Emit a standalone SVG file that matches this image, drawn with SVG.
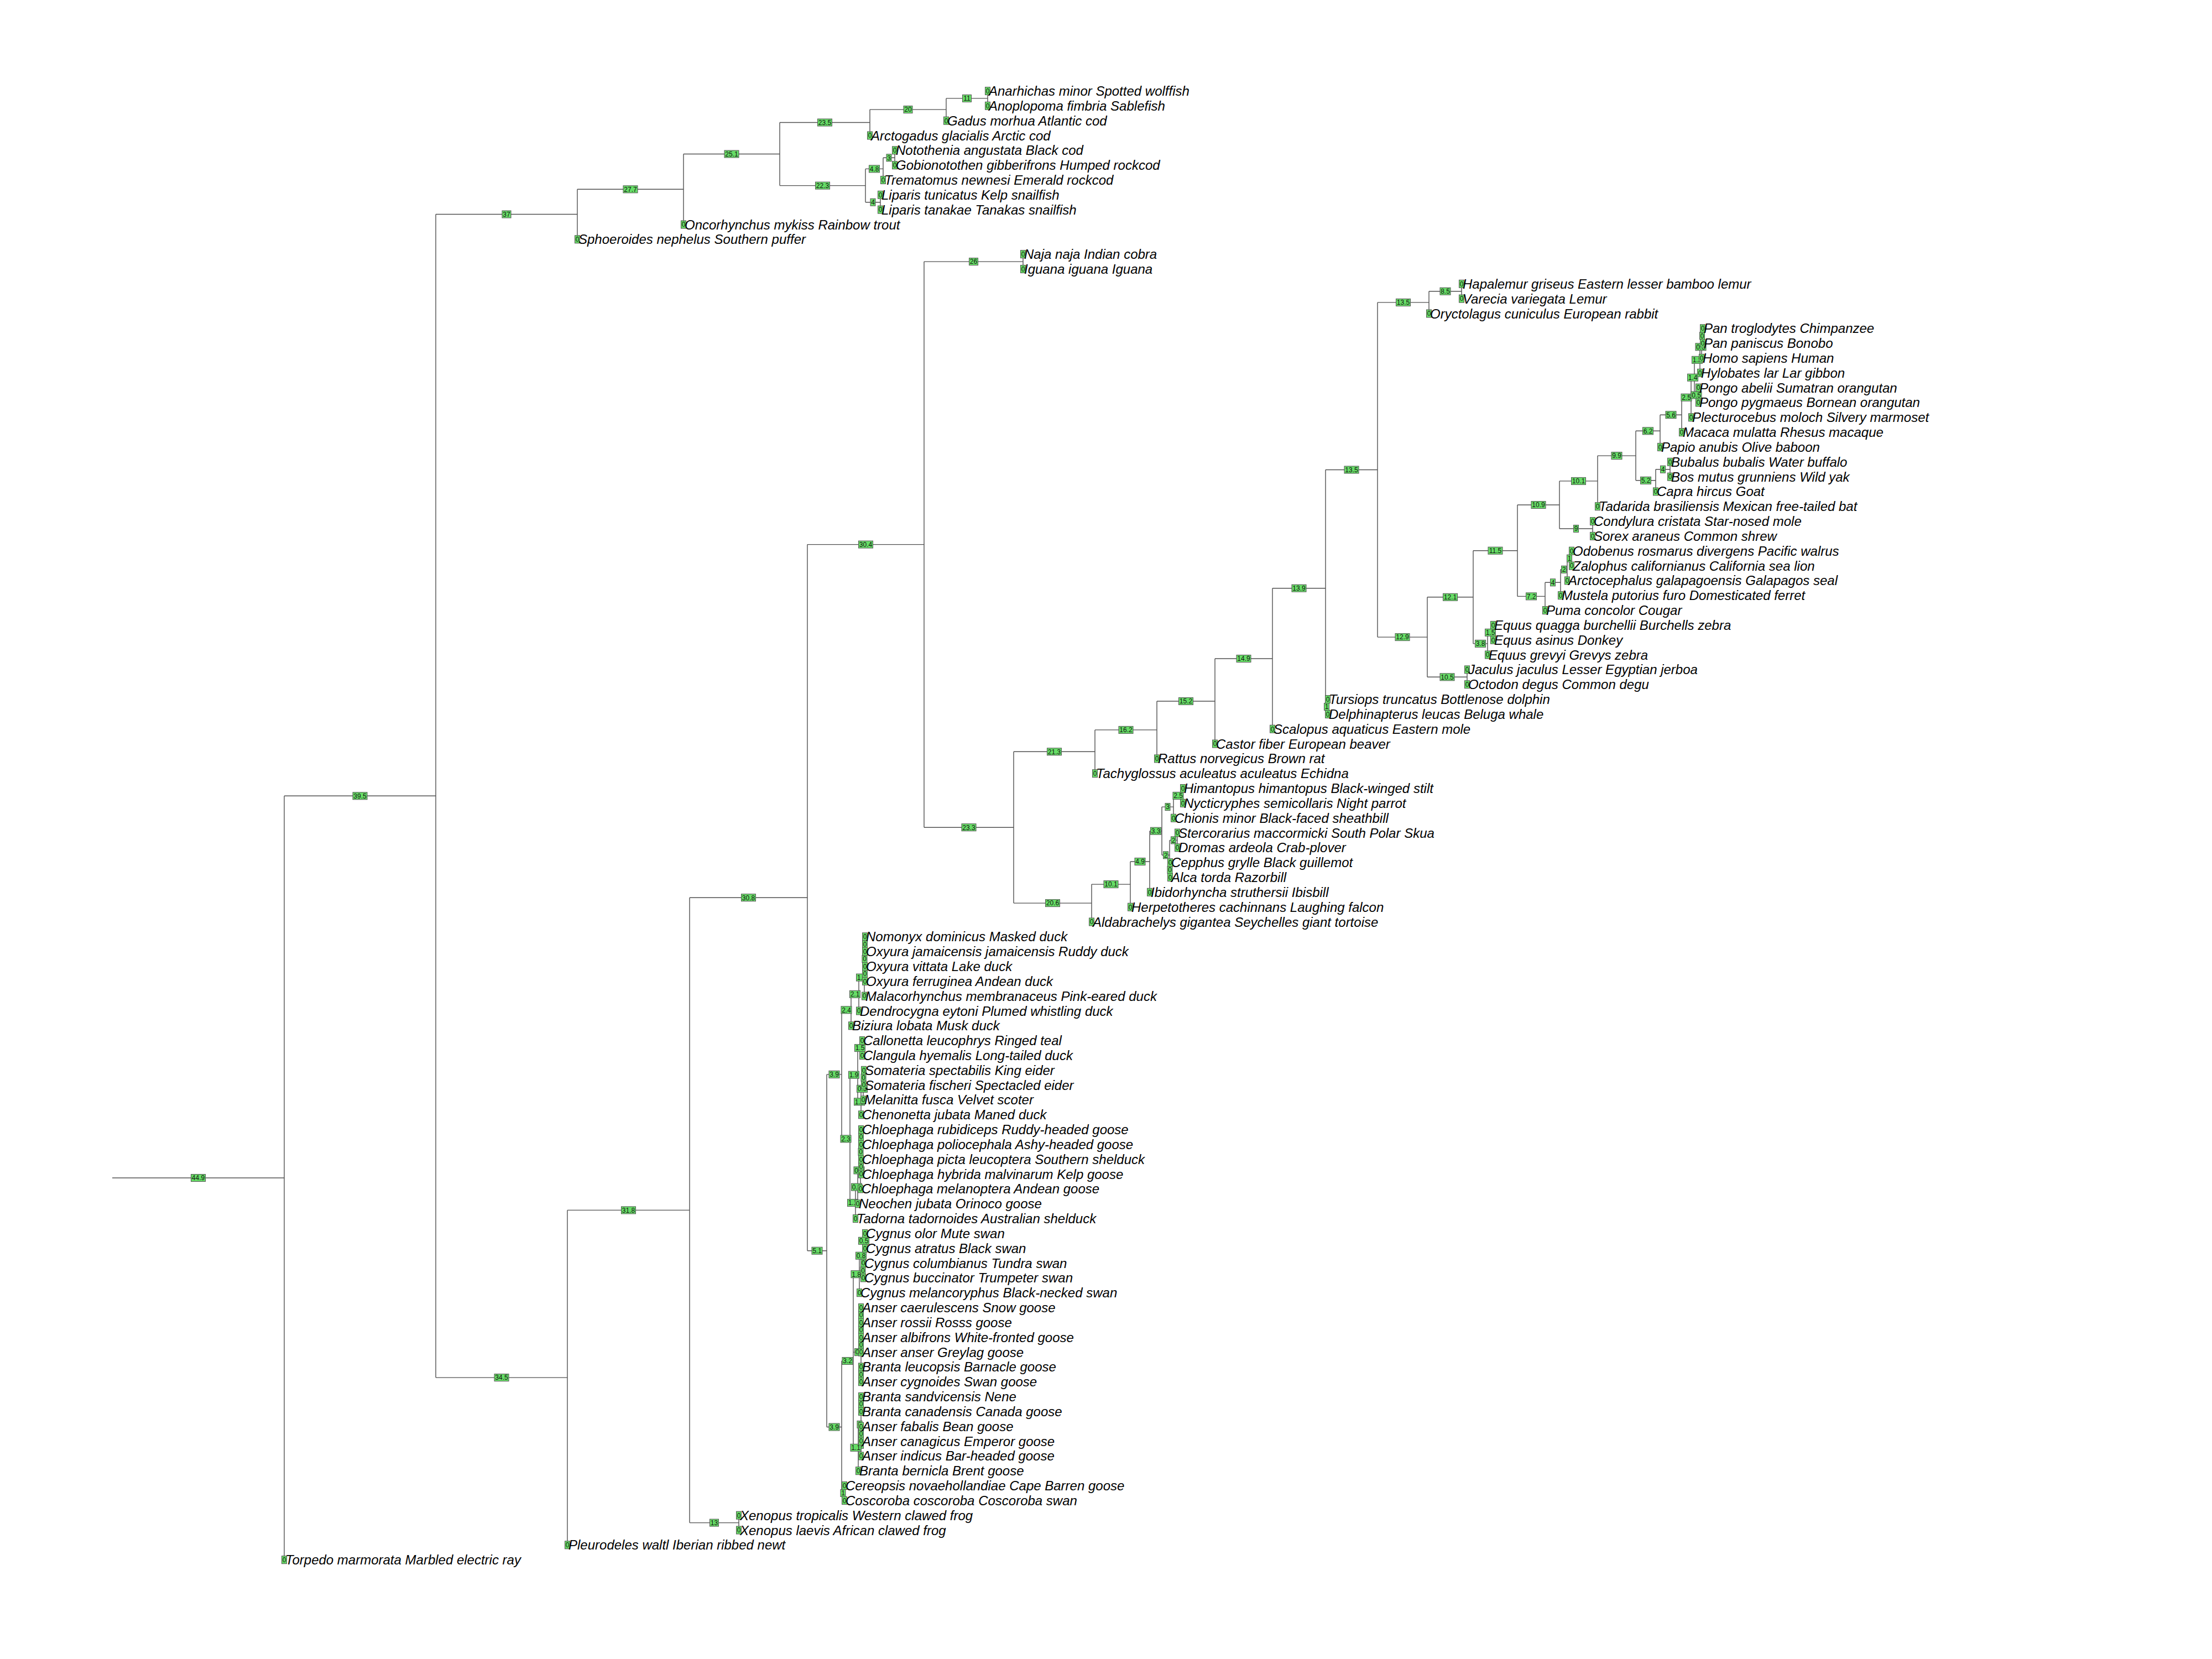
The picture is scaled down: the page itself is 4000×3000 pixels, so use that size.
<svg xmlns="http://www.w3.org/2000/svg" width="4000" height="3000" viewBox="0 0 4000 3000">
<style>
.br path{fill:none;stroke:#505050;stroke-width:1.4}
.lb rect,.lf rect{fill:#66dd66;stroke:#555;stroke-width:1}
.lb text,.lf .z{font-family:"Liberation Sans",Arial,sans-serif;font-size:12px;text-anchor:middle;fill:#111}
.lf .s{font-family:"Liberation Sans",Arial,sans-serif;font-size:24px;font-style:italic;fill:#000}
</style>
<rect width="4000" height="3000" fill="#fff"/>
<g id="connectors" class="br">
<path d="M203,2130H514"/>
<path d="M514,1439.3V2820.7M514,1439.3H788"/>
<path d="M788,387.5V2491.1M788,387.5H1044M788,2491.1H1026"/>
<path d="M1044,342.3V432.8M1044,342.3H1236"/>
<path d="M1236,278.5V406M1236,278.5H1410"/>
<path d="M1410,221.5V335.6M1410,221.5H1573M1410,335.6H1565"/>
<path d="M1573,198.1V245M1573,198.1H1711"/>
<path d="M1711,177.9V218.2M1711,177.9H1786"/>
<path d="M1786,164.5V191.3"/>
<path d="M1565,305.4V365.7M1565,305.4H1597M1565,365.7H1592"/>
<path d="M1597,285.3V325.5M1597,285.3H1618"/>
<path d="M1618,271.8V298.7"/>
<path d="M1592,352.3V379.1"/>
<path d="M1026,2188.4V2793.8M1026,2188.4H1247"/>
<path d="M1247,1623.2V2753.6M1247,1623.2H1460M1247,2753.6H1336"/>
<path d="M1336,2740.2V2767"/>
<path d="M1460,984.6V2261.7M1460,984.6H1671M1460,2261.7H1495"/>
<path d="M1671,473.1V1496.2M1671,473.1H1850M1671,1496.2H1833"/>
<path d="M1850,459.6V486.5"/>
<path d="M1833,1359.3V1633.1M1833,1359.3H1980M1833,1633.1H1974"/>
<path d="M1980,1319.9V1398.7M1980,1319.9H2092"/>
<path d="M2092,1268V1371.9M2092,1268H2197"/>
<path d="M2197,1191V1345M2197,1191H2301"/>
<path d="M2301,1063.7V1318.2M2301,1063.7H2397"/>
<path d="M2397,849.5V1278M2397,849.5H2491M2397,1278H2401"/>
<path d="M2401,1264.5V1291.4"/>
<path d="M2491,546.9V1152.1M2491,546.9H2584M2491,1152.1H2581"/>
<path d="M2584,526.7V567M2584,526.7H2643"/>
<path d="M2643,513.3V540.1"/>
<path d="M2581,1079.8V1224.3M2581,1079.8H2664M2581,1224.3H2653"/>
<path d="M2653,1210.9V1237.7"/>
<path d="M2664,995.7V1163.9M2664,995.7H2744M2664,1163.9H2690"/>
<path d="M2690,1143.8V1184M2690,1143.8H2700"/>
<path d="M2700,1130.4V1157.2"/>
<path d="M2744,913V1078.4M2744,913H2820M2744,1078.4H2794"/>
<path d="M2794,1053.3V1103.6M2794,1053.3H2822"/>
<path d="M2822,1029.8V1076.7M2822,1029.8H2834"/>
<path d="M2834,1009.7V1049.9M2834,1009.7H2842"/>
<path d="M2842,996.2V1023.1"/>
<path d="M2820,869.9V956M2820,869.9H2889M2820,956H2880"/>
<path d="M2880,942.6V969.4"/>
<path d="M2889,824.1V915.7M2889,824.1H2958"/>
<path d="M2958,779.3V868.8M2958,779.3H3002M2958,868.8H2994"/>
<path d="M2994,848.7V888.9M2994,848.7H3020"/>
<path d="M3020,835.3V862.1"/>
<path d="M3002,750.2V808.4M3002,750.2H3041"/>
<path d="M3041,718.7V781.6M3041,718.7H3058"/>
<path d="M3058,682.7V754.8M3058,682.7H3064"/>
<path d="M3064,650.8V714.5M3064,650.8H3074M3064,714.5H3071"/>
<path d="M3071,701.1V727.9"/>
<path d="M3074,627.3V674.3M3074,627.3H3077"/>
<path d="M3077,607.2V647.4M3077,607.2H3079"/>
<path d="M3079,593.8V620.6"/>
<path d="M1974,1599.1V1667M1974,1599.1H2044"/>
<path d="M2044,1558V1640.2M2044,1558H2079"/>
<path d="M2079,1502.7V1613.3M2079,1502.7H2101"/>
<path d="M2101,1459.1V1546.3M2101,1459.1H2122M2101,1546.3H2115"/>
<path d="M2122,1438.9V1479.2M2122,1438.9H2139"/>
<path d="M2139,1425.5V1452.3"/>
<path d="M2115,1519.4V1573.1M2115,1519.4H2129M2115,1573.1H2116"/>
<path d="M2129,1506V1532.8"/>
<path d="M2116,1559.7V1586.5"/>
<path d="M1495,1942.9V2580.5M1495,1942.9H1522M1495,2580.5H1522"/>
<path d="M1522,1826.3V2059.4M1522,1826.3H1539M1522,2059.4H1537"/>
<path d="M1539,1797.8V1854.8M1539,1797.8H1553"/>
<path d="M1553,1767.6V1828M1553,1767.6H1563"/>
<path d="M1563,1734.1V1801.1M1563,1734.1H1564"/>
<path d="M1564,1693.8V1774.3"/>
<path d="M1537,1943.7V2175.1M1537,1943.7H1551M1537,2175.1H1547"/>
<path d="M1551,1895.1V1992.3M1551,1895.1H1559M1551,1992.3H1557"/>
<path d="M1559,1881.6V1908.5"/>
<path d="M1557,1968.8V2015.8M1557,1968.8H1561"/>
<path d="M1561,1948.7V1988.9M1561,1948.7H1562"/>
<path d="M1562,1935.3V1962.1"/>
<path d="M1547,2146.6V2203.6M1547,2146.6H1551"/>
<path d="M1551,2116.4V2176.8M1551,2116.4H1556"/>
<path d="M1556,2082.9V2149.9M1556,2082.9H1557"/>
<path d="M1557,2042.6V2123.1"/>
<path d="M1522,2461V2700M1522,2461H1543M1522,2700H1527"/>
<path d="M1527,2686.5V2713.4"/>
<path d="M1543,2304.2V2617.8M1543,2304.2H1554M1543,2445.1H1557M1543,2617.8H1552"/>
<path d="M1554,2270.7V2337.7M1554,2270.7H1560"/>
<path d="M1560,2243.8V2297.5M1560,2243.8H1564M1560,2297.5H1561"/>
<path d="M1564,2230.4V2257.2"/>
<path d="M1561,2284.1V2310.9"/>
<path d="M1557,2364.6V2498.7"/>
<path d="M1552,2575.9V2659.7M1552,2575.9H1557"/>
<path d="M1557,2525.5V2632.9"/>
</g>
<g id="internal-nodes">
<g id="n-root" class="lb" transform="translate(358.5,2130)"><rect x="-13" y="-6.5" width="26" height="13"/><text y="4.3">44.9</text></g>
<g id="n-b" class="lb" transform="translate(651,1439.3)"><rect x="-13" y="-6.5" width="26" height="13"/><text y="4.3">39.5</text></g>
<g id="n-c" class="lb" transform="translate(916,387.5)"><rect x="-8" y="-6.5" width="16" height="13"/><text y="4.3">37</text></g>
<g id="n-d" class="lb" transform="translate(1140,342.3)"><rect x="-13" y="-6.5" width="26" height="13"/><text y="4.3">27.7</text></g>
<g id="n-e" class="lb" transform="translate(1323,278.5)"><rect x="-13" y="-6.5" width="26" height="13"/><text y="4.3">25.1</text></g>
<g id="n-f" class="lb" transform="translate(1491.5,221.5)"><rect x="-13" y="-6.5" width="26" height="13"/><text y="4.3">23.5</text></g>
<g id="n-g" class="lb" transform="translate(1642,198.1)"><rect x="-8" y="-6.5" width="16" height="13"/><text y="4.3">20</text></g>
<g id="n-h" class="lb" transform="translate(1748.5,177.9)"><rect x="-8" y="-6.5" width="16" height="13"/><text y="4.3">11</text></g>
<g id="n-i" class="lb" transform="translate(1487.5,335.6)"><rect x="-13" y="-6.5" width="26" height="13"/><text y="4.3">22.3</text></g>
<g id="n-j" class="lb" transform="translate(1581,305.4)"><rect x="-9.5" y="-6.5" width="19" height="13"/><text y="4.3">4.8</text></g>
<g id="n-k" class="lb" transform="translate(1607.5,285.3)"><rect x="-4.5" y="-6.5" width="9" height="13"/><text y="4.3">3</text></g>
<g id="n-l" class="lb" transform="translate(1578.5,365.7)"><rect x="-4.5" y="-6.5" width="9" height="13"/><text y="4.3">4</text></g>
<g id="n-m" class="lb" transform="translate(907,2491.1)"><rect x="-13" y="-6.5" width="26" height="13"/><text y="4.3">34.5</text></g>
<g id="n-n" class="lb" transform="translate(1136.5,2188.4)"><rect x="-13" y="-6.5" width="26" height="13"/><text y="4.3">31.8</text></g>
<g id="n-o" class="lb" transform="translate(1291.5,2753.6)"><rect x="-8" y="-6.5" width="16" height="13"/><text y="4.3">13</text></g>
<g id="n-p" class="lb" transform="translate(1353.5,1623.2)"><rect x="-13" y="-6.5" width="26" height="13"/><text y="4.3">30.8</text></g>
<g id="n-q" class="lb" transform="translate(1565.5,984.6)"><rect x="-13" y="-6.5" width="26" height="13"/><text y="4.3">30.4</text></g>
<g id="n-reptile" class="lb" transform="translate(1760.5,473.1)"><rect x="-8" y="-6.5" width="16" height="13"/><text y="4.3">26</text></g>
<g id="n-amniote" class="lb" transform="translate(1752,1496.2)"><rect x="-13" y="-6.5" width="26" height="13"/><text y="4.3">23.3</text></g>
<g id="n-mammal" class="lb" transform="translate(1906.5,1359.3)"><rect x="-13" y="-6.5" width="26" height="13"/><text y="4.3">21.3</text></g>
<g id="n-sauropsid" class="lb" transform="translate(1903.5,1633.1)"><rect x="-13" y="-6.5" width="26" height="13"/><text y="4.3">20.6</text></g>
<g id="n-162" class="lb" transform="translate(2036,1319.9)"><rect x="-13" y="-6.5" width="26" height="13"/><text y="4.3">16.2</text></g>
<g id="n-152" class="lb" transform="translate(2144.5,1268)"><rect x="-13" y="-6.5" width="26" height="13"/><text y="4.3">15.2</text></g>
<g id="n-149" class="lb" transform="translate(2249,1191)"><rect x="-13" y="-6.5" width="26" height="13"/><text y="4.3">14.9</text></g>
<g id="n-139" class="lb" transform="translate(2349,1063.7)"><rect x="-13" y="-6.5" width="26" height="13"/><text y="4.3">13.9</text></g>
<g id="n-cetacea" class="lb" transform="translate(2399,1278)"><rect x="-4.5" y="-6.5" width="9" height="13"/><text y="4.3">1</text></g>
<g id="n-135a" class="lb" transform="translate(2444,849.5)"><rect x="-13" y="-6.5" width="26" height="13"/><text y="4.3">13.5</text></g>
<g id="n-135b" class="lb" transform="translate(2537.5,546.9)"><rect x="-13" y="-6.5" width="26" height="13"/><text y="4.3">13.5</text></g>
<g id="n-lemur" class="lb" transform="translate(2613.5,526.7)"><rect x="-9.5" y="-6.5" width="19" height="13"/><text y="4.3">8.5</text></g>
<g id="n-129" class="lb" transform="translate(2536,1152.1)"><rect x="-13" y="-6.5" width="26" height="13"/><text y="4.3">12.9</text></g>
<g id="n-121" class="lb" transform="translate(2622.5,1079.8)"><rect x="-13" y="-6.5" width="26" height="13"/><text y="4.3">12.1</text></g>
<g id="n-rodent" class="lb" transform="translate(2617,1224.3)"><rect x="-13" y="-6.5" width="26" height="13"/><text y="4.3">10.5</text></g>
<g id="n-115" class="lb" transform="translate(2704,995.7)"><rect x="-13" y="-6.5" width="26" height="13"/><text y="4.3">11.5</text></g>
<g id="n-equus" class="lb" transform="translate(2677,1163.9)"><rect x="-9.5" y="-6.5" width="19" height="13"/><text y="4.3">3.8</text></g>
<g id="n-zebra" class="lb" transform="translate(2695,1143.8)"><rect x="-9.5" y="-6.5" width="19" height="13"/><text y="4.3">1.5</text></g>
<g id="n-109" class="lb" transform="translate(2782,913)"><rect x="-13" y="-6.5" width="26" height="13"/><text y="4.3">10.9</text></g>
<g id="n-carnivora" class="lb" transform="translate(2769,1078.4)"><rect x="-9.5" y="-6.5" width="19" height="13"/><text y="4.3">7.2</text></g>
<g id="n-caniform" class="lb" transform="translate(2808,1053.3)"><rect x="-4.5" y="-6.5" width="9" height="13"/><text y="4.3">4</text></g>
<g id="n-pinniped" class="lb" transform="translate(2828,1029.8)"><rect x="-4.5" y="-6.5" width="9" height="13"/><text y="4.3">2</text></g>
<g id="n-walrus" class="lb" transform="translate(2838,1009.7)"><rect x="-4.5" y="-6.5" width="9" height="13"/><text y="4.3">1</text></g>
<g id="n-101m" class="lb" transform="translate(2854.5,869.9)"><rect x="-13" y="-6.5" width="26" height="13"/><text y="4.3">10.1</text></g>
<g id="n-mole" class="lb" transform="translate(2850,956)"><rect x="-4.5" y="-6.5" width="9" height="13"/><text y="4.3">9</text></g>
<g id="n-99" class="lb" transform="translate(2923.5,824.1)"><rect x="-9.5" y="-6.5" width="19" height="13"/><text y="4.3">9.9</text></g>
<g id="n-primate" class="lb" transform="translate(2980,779.3)"><rect x="-9.5" y="-6.5" width="19" height="13"/><text y="4.3">6.2</text></g>
<g id="n-bovid" class="lb" transform="translate(2976,868.8)"><rect x="-9.5" y="-6.5" width="19" height="13"/><text y="4.3">5.2</text></g>
<g id="n-bovine" class="lb" transform="translate(3007,848.7)"><rect x="-4.5" y="-6.5" width="9" height="13"/><text y="4.3">4</text></g>
<g id="n-56" class="lb" transform="translate(3021.5,750.2)"><rect x="-9.5" y="-6.5" width="19" height="13"/><text y="4.3">5.6</text></g>
<g id="n-25p" class="lb" transform="translate(3049.5,718.7)"><rect x="-9.5" y="-6.5" width="19" height="13"/><text y="4.3">2.5</text></g>
<g id="n-ape" class="lb" transform="translate(3061,682.7)"><rect x="-9.5" y="-6.5" width="19" height="13"/><text y="4.3">1.4</text></g>
<g id="n-pongo" class="lb" transform="translate(3067.5,714.5)"><rect x="-9.5" y="-6.5" width="19" height="13"/><text y="4.3">0.5</text></g>
<g id="n-12p" class="lb" transform="translate(3069,650.8)"><rect x="-9.5" y="-6.5" width="19" height="13"/><text y="4.3">1.2</text></g>
<g id="n-hominin" class="lb" transform="translate(3075.5,627.3)"><rect x="-9.5" y="-6.5" width="19" height="13"/><text y="4.3">0.5</text></g>
<g id="n-pan" class="lb" transform="translate(3078,607.2)"><rect x="-4.5" y="-6.5" width="9" height="13"/><text y="4.3">0</text></g>
<g id="n-bird" class="lb" transform="translate(2009,1599.1)"><rect x="-13" y="-6.5" width="26" height="13"/><text y="4.3">10.1</text></g>
<g id="n-49" class="lb" transform="translate(2061.5,1558)"><rect x="-9.5" y="-6.5" width="19" height="13"/><text y="4.3">4.9</text></g>
<g id="n-33" class="lb" transform="translate(2090,1502.7)"><rect x="-9.5" y="-6.5" width="19" height="13"/><text y="4.3">3.3</text></g>
<g id="n-3b" class="lb" transform="translate(2111.5,1459.1)"><rect x="-4.5" y="-6.5" width="9" height="13"/><text y="4.3">3</text></g>
<g id="n-25b" class="lb" transform="translate(2130.5,1438.9)"><rect x="-9.5" y="-6.5" width="19" height="13"/><text y="4.3">2.5</text></g>
<g id="n-2s1" class="lb" transform="translate(2108,1546.3)"><rect x="-4.5" y="-6.5" width="9" height="13"/><text y="4.3">2</text></g>
<g id="n-2s2" class="lb" transform="translate(2122,1519.4)"><rect x="-4.5" y="-6.5" width="9" height="13"/><text y="4.3">2</text></g>
<g id="n-auk" class="lb" transform="translate(2115.5,1573.1)"><rect x="-4.5" y="-6.5" width="9" height="13"/><text y="4.3">0</text></g>
<g id="n-anatid" class="lb" transform="translate(1477.5,2261.7)"><rect x="-9.5" y="-6.5" width="19" height="13"/><text y="4.3">5.1</text></g>
<g id="n-39a" class="lb" transform="translate(1508.5,1942.9)"><rect x="-9.5" y="-6.5" width="19" height="13"/><text y="4.3">3.9</text></g>
<g id="n-24" class="lb" transform="translate(1530.5,1826.3)"><rect x="-9.5" y="-6.5" width="19" height="13"/><text y="4.3">2.4</text></g>
<g id="n-21" class="lb" transform="translate(1546,1797.8)"><rect x="-9.5" y="-6.5" width="19" height="13"/><text y="4.3">2.1</text></g>
<g id="n-18d" class="lb" transform="translate(1558,1767.6)"><rect x="-9.5" y="-6.5" width="19" height="13"/><text y="4.3">1.8</text></g>
<g id="n-oxy2" class="lb" transform="translate(1563.5,1734.1)"><rect x="-4.5" y="-6.5" width="9" height="13"/><text y="4.3">0</text></g>
<g id="n-oxy1" class="lb" transform="translate(1564,1707.2)"><rect x="-4.5" y="-6.5" width="9" height="13"/><text y="4.3">0</text></g>
<g id="n-oxy3" class="lb" transform="translate(1564,1760.9)"><rect x="-4.5" y="-6.5" width="9" height="13"/><text y="4.3">0</text></g>
<g id="n-23" class="lb" transform="translate(1529.5,2059.4)"><rect x="-9.5" y="-6.5" width="19" height="13"/><text y="4.3">2.3</text></g>
<g id="n-19" class="lb" transform="translate(1544,1943.7)"><rect x="-9.5" y="-6.5" width="19" height="13"/><text y="4.3">1.9</text></g>
<g id="n-15d" class="lb" transform="translate(1555,1895.1)"><rect x="-9.5" y="-6.5" width="19" height="13"/><text y="4.3">1.5</text></g>
<g id="n-12d" class="lb" transform="translate(1554,1992.3)"><rect x="-9.5" y="-6.5" width="19" height="13"/><text y="4.3">1.2</text></g>
<g id="n-05d" class="lb" transform="translate(1559,1968.8)"><rect x="-9.5" y="-6.5" width="19" height="13"/><text y="4.3">0.5</text></g>
<g id="n-som" class="lb" transform="translate(1561.5,1948.7)"><rect x="-4.5" y="-6.5" width="9" height="13"/><text y="4.3">0</text></g>
<g id="n-11c" class="lb" transform="translate(1542,2175.1)"><rect x="-9.5" y="-6.5" width="19" height="13"/><text y="4.3">1.1</text></g>
<g id="n-06" class="lb" transform="translate(1549,2146.6)"><rect x="-9.5" y="-6.5" width="19" height="13"/><text y="4.3">0.6</text></g>
<g id="n-05c" class="lb" transform="translate(1553.5,2116.4)"><rect x="-9.5" y="-6.5" width="19" height="13"/><text y="4.3">0.5</text></g>
<g id="n-chl3" class="lb" transform="translate(1556.5,2082.9)"><rect x="-4.5" y="-6.5" width="9" height="13"/><text y="4.3">0</text></g>
<g id="n-chl1" class="lb" transform="translate(1557,2056)"><rect x="-4.5" y="-6.5" width="9" height="13"/><text y="4.3">0</text></g>
<g id="n-chl2" class="lb" transform="translate(1557,2109.7)"><rect x="-4.5" y="-6.5" width="9" height="13"/><text y="4.3">0</text></g>
<g id="n-39b" class="lb" transform="translate(1508.5,2580.5)"><rect x="-9.5" y="-6.5" width="19" height="13"/><text y="4.3">3.9</text></g>
<g id="n-cereo" class="lb" transform="translate(1524.5,2700)"><rect x="-4.5" y="-6.5" width="9" height="13"/><text y="4.3">1</text></g>
<g id="n-32" class="lb" transform="translate(1532.5,2461)"><rect x="-9.5" y="-6.5" width="19" height="13"/><text y="4.3">3.2</text></g>
<g id="n-18s" class="lb" transform="translate(1548.5,2304.2)"><rect x="-9.5" y="-6.5" width="19" height="13"/><text y="4.3">1.8</text></g>
<g id="n-08" class="lb" transform="translate(1557,2270.7)"><rect x="-9.5" y="-6.5" width="19" height="13"/><text y="4.3">0.8</text></g>
<g id="n-05s" class="lb" transform="translate(1562,2243.8)"><rect x="-9.5" y="-6.5" width="19" height="13"/><text y="4.3">0.5</text></g>
<g id="n-sw0" class="lb" transform="translate(1560.5,2297.5)"><rect x="-4.5" y="-6.5" width="9" height="13"/><text y="4.3">0</text></g>
<g id="n-g1" class="lb" transform="translate(1550,2445.1)"><rect x="-4.5" y="-6.5" width="9" height="13"/><text y="4.3">0</text></g>
<g id="n-qab" class="lb" transform="translate(1557,2404.8)"><rect x="-4.5" y="-6.5" width="9" height="13"/><text y="4.3">0</text></g>
<g id="n-pa" class="lb" transform="translate(1557,2378)"><rect x="-4.5" y="-6.5" width="9" height="13"/><text y="4.3">0</text></g>
<g id="n-pb" class="lb" transform="translate(1557,2431.7)"><rect x="-4.5" y="-6.5" width="9" height="13"/><text y="4.3">0</text></g>
<g id="n-pc" class="lb" transform="translate(1557,2485.3)"><rect x="-4.5" y="-6.5" width="9" height="13"/><text y="4.3">0</text></g>
<g id="n-y" class="lb" transform="translate(1554.5,2575.9)"><rect x="-4.5" y="-6.5" width="9" height="13"/><text y="4.3">0</text></g>
<g id="n-sc" class="lb" transform="translate(1557,2539)"><rect x="-4.5" y="-6.5" width="9" height="13"/><text y="4.3">0</text></g>
<g id="n-fc" class="lb" transform="translate(1557,2592.6)"><rect x="-4.5" y="-6.5" width="9" height="13"/><text y="4.3">0</text></g>
<g id="n-r" class="lb" transform="translate(1557,2612.8)"><rect x="-4.5" y="-6.5" width="9" height="13"/><text y="4.3">0</text></g>
<g id="n-11g" class="lb" transform="translate(1547.5,2617.8)"><rect x="-9.5" y="-6.5" width="19" height="13"/><text y="4.3">1.1</text></g>
</g>
<g id="leaves">
<g id="leaf-00" class="lf" transform="translate(1786,164.5)"><rect x="-4.5" y="-7" width="9" height="14"/><text class="z" y="4.3">0</text><text class="s" x="2" y="8.5">Anarhichas minor Spotted wolffish</text></g>
<g id="leaf-01" class="lf" transform="translate(1786,191.3)"><rect x="-4.5" y="-7" width="9" height="14"/><text class="z" y="4.3">0</text><text class="s" x="2" y="8.5">Anoplopoma fimbria Sablefish</text></g>
<g id="leaf-02" class="lf" transform="translate(1711,218.2)"><rect x="-4.5" y="-7" width="9" height="14"/><text class="z" y="4.3">0</text><text class="s" x="2" y="8.5">Gadus morhua Atlantic cod</text></g>
<g id="leaf-03" class="lf" transform="translate(1573,245)"><rect x="-4.5" y="-7" width="9" height="14"/><text class="z" y="4.3">0</text><text class="s" x="2" y="8.5">Arctogadus glacialis Arctic cod</text></g>
<g id="leaf-04" class="lf" transform="translate(1618,271.8)"><rect x="-4.5" y="-7" width="9" height="14"/><text class="z" y="4.3">0</text><text class="s" x="2" y="8.5">Notothenia angustata Black cod</text></g>
<g id="leaf-05" class="lf" transform="translate(1618,298.7)"><rect x="-4.5" y="-7" width="9" height="14"/><text class="z" y="4.3">0</text><text class="s" x="2" y="8.5">Gobionotothen gibberifrons Humped rockcod</text></g>
<g id="leaf-06" class="lf" transform="translate(1597,325.5)"><rect x="-4.5" y="-7" width="9" height="14"/><text class="z" y="4.3">0</text><text class="s" x="2" y="8.5">Trematomus newnesi Emerald rockcod</text></g>
<g id="leaf-07" class="lf" transform="translate(1592,352.3)"><rect x="-4.5" y="-7" width="9" height="14"/><text class="z" y="4.3">0</text><text class="s" x="2" y="8.5">Liparis tunicatus Kelp snailfish</text></g>
<g id="leaf-08" class="lf" transform="translate(1592,379.1)"><rect x="-4.5" y="-7" width="9" height="14"/><text class="z" y="4.3">0</text><text class="s" x="2" y="8.5">Liparis tanakae Tanakas snailfish</text></g>
<g id="leaf-09" class="lf" transform="translate(1236,406)"><rect x="-4.5" y="-7" width="9" height="14"/><text class="z" y="4.3">0</text><text class="s" x="2" y="8.5">Oncorhynchus mykiss Rainbow trout</text></g>
<g id="leaf-10" class="lf" transform="translate(1044,432.8)"><rect x="-4.5" y="-7" width="9" height="14"/><text class="z" y="4.3">0</text><text class="s" x="2" y="8.5">Sphoeroides nephelus Southern puffer</text></g>
<g id="leaf-11" class="lf" transform="translate(1850,459.6)"><rect x="-4.5" y="-7" width="9" height="14"/><text class="z" y="4.3">0</text><text class="s" x="2" y="8.5">Naja naja Indian cobra</text></g>
<g id="leaf-12" class="lf" transform="translate(1850,486.5)"><rect x="-4.5" y="-7" width="9" height="14"/><text class="z" y="4.3">0</text><text class="s" x="2" y="8.5">Iguana iguana Iguana</text></g>
<g id="leaf-13" class="lf" transform="translate(2643,513.3)"><rect x="-4.5" y="-7" width="9" height="14"/><text class="z" y="4.3">0</text><text class="s" x="2" y="8.5">Hapalemur griseus Eastern lesser bamboo lemur</text></g>
<g id="leaf-14" class="lf" transform="translate(2643,540.1)"><rect x="-4.5" y="-7" width="9" height="14"/><text class="z" y="4.3">0</text><text class="s" x="2" y="8.5">Varecia variegata Lemur</text></g>
<g id="leaf-15" class="lf" transform="translate(2584,567)"><rect x="-4.5" y="-7" width="9" height="14"/><text class="z" y="4.3">0</text><text class="s" x="2" y="8.5">Oryctolagus cuniculus European rabbit</text></g>
<g id="leaf-16" class="lf" transform="translate(3079,593.8)"><rect x="-4.5" y="-7" width="9" height="14"/><text class="z" y="4.3">0</text><text class="s" x="2" y="8.5">Pan troglodytes Chimpanzee</text></g>
<g id="leaf-17" class="lf" transform="translate(3079,620.6)"><rect x="-4.5" y="-7" width="9" height="14"/><text class="z" y="4.3">0</text><text class="s" x="2" y="8.5">Pan paniscus Bonobo</text></g>
<g id="leaf-18" class="lf" transform="translate(3077,647.4)"><rect x="-4.5" y="-7" width="9" height="14"/><text class="z" y="4.3">0</text><text class="s" x="2" y="8.5">Homo sapiens Human</text></g>
<g id="leaf-19" class="lf" transform="translate(3074,674.3)"><rect x="-4.5" y="-7" width="9" height="14"/><text class="z" y="4.3">0</text><text class="s" x="2" y="8.5">Hylobates lar Lar gibbon</text></g>
<g id="leaf-20" class="lf" transform="translate(3071,701.1)"><rect x="-4.5" y="-7" width="9" height="14"/><text class="z" y="4.3">0</text><text class="s" x="2" y="8.5">Pongo abelii Sumatran orangutan</text></g>
<g id="leaf-21" class="lf" transform="translate(3071,727.9)"><rect x="-4.5" y="-7" width="9" height="14"/><text class="z" y="4.3">0</text><text class="s" x="2" y="8.5">Pongo pygmaeus Bornean orangutan</text></g>
<g id="leaf-22" class="lf" transform="translate(3058,754.8)"><rect x="-4.5" y="-7" width="9" height="14"/><text class="z" y="4.3">0</text><text class="s" x="2" y="8.5">Plecturocebus moloch Silvery marmoset</text></g>
<g id="leaf-23" class="lf" transform="translate(3041,781.6)"><rect x="-4.5" y="-7" width="9" height="14"/><text class="z" y="4.3">0</text><text class="s" x="2" y="8.5">Macaca mulatta Rhesus macaque</text></g>
<g id="leaf-24" class="lf" transform="translate(3002,808.4)"><rect x="-4.5" y="-7" width="9" height="14"/><text class="z" y="4.3">0</text><text class="s" x="2" y="8.5">Papio anubis Olive baboon</text></g>
<g id="leaf-25" class="lf" transform="translate(3020,835.3)"><rect x="-4.5" y="-7" width="9" height="14"/><text class="z" y="4.3">0</text><text class="s" x="2" y="8.5">Bubalus bubalis Water buffalo</text></g>
<g id="leaf-26" class="lf" transform="translate(3020,862.1)"><rect x="-4.5" y="-7" width="9" height="14"/><text class="z" y="4.3">0</text><text class="s" x="2" y="8.5">Bos mutus grunniens Wild yak</text></g>
<g id="leaf-27" class="lf" transform="translate(2994,888.9)"><rect x="-4.5" y="-7" width="9" height="14"/><text class="z" y="4.3">0</text><text class="s" x="2" y="8.5">Capra hircus Goat</text></g>
<g id="leaf-28" class="lf" transform="translate(2889,915.7)"><rect x="-4.5" y="-7" width="9" height="14"/><text class="z" y="4.3">0</text><text class="s" x="2" y="8.5">Tadarida brasiliensis Mexican free-tailed bat</text></g>
<g id="leaf-29" class="lf" transform="translate(2880,942.6)"><rect x="-4.5" y="-7" width="9" height="14"/><text class="z" y="4.3">0</text><text class="s" x="2" y="8.5">Condylura cristata Star-nosed mole</text></g>
<g id="leaf-30" class="lf" transform="translate(2880,969.4)"><rect x="-4.5" y="-7" width="9" height="14"/><text class="z" y="4.3">0</text><text class="s" x="2" y="8.5">Sorex araneus Common shrew</text></g>
<g id="leaf-31" class="lf" transform="translate(2842,996.2)"><rect x="-4.5" y="-7" width="9" height="14"/><text class="z" y="4.3">0</text><text class="s" x="2" y="8.5">Odobenus rosmarus divergens Pacific walrus</text></g>
<g id="leaf-32" class="lf" transform="translate(2842,1023.1)"><rect x="-4.5" y="-7" width="9" height="14"/><text class="z" y="4.3">0</text><text class="s" x="2" y="8.5">Zalophus californianus California sea lion</text></g>
<g id="leaf-33" class="lf" transform="translate(2834,1049.9)"><rect x="-4.5" y="-7" width="9" height="14"/><text class="z" y="4.3">0</text><text class="s" x="2" y="8.5">Arctocephalus galapagoensis Galapagos seal</text></g>
<g id="leaf-34" class="lf" transform="translate(2822,1076.7)"><rect x="-4.5" y="-7" width="9" height="14"/><text class="z" y="4.3">0</text><text class="s" x="2" y="8.5">Mustela putorius furo Domesticated ferret</text></g>
<g id="leaf-35" class="lf" transform="translate(2794,1103.6)"><rect x="-4.5" y="-7" width="9" height="14"/><text class="z" y="4.3">0</text><text class="s" x="2" y="8.5">Puma concolor Cougar</text></g>
<g id="leaf-36" class="lf" transform="translate(2700,1130.4)"><rect x="-4.5" y="-7" width="9" height="14"/><text class="z" y="4.3">0</text><text class="s" x="2" y="8.5">Equus quagga burchellii Burchells zebra</text></g>
<g id="leaf-37" class="lf" transform="translate(2700,1157.2)"><rect x="-4.5" y="-7" width="9" height="14"/><text class="z" y="4.3">0</text><text class="s" x="2" y="8.5">Equus asinus Donkey</text></g>
<g id="leaf-38" class="lf" transform="translate(2690,1184)"><rect x="-4.5" y="-7" width="9" height="14"/><text class="z" y="4.3">0</text><text class="s" x="2" y="8.5">Equus grevyi Grevys zebra</text></g>
<g id="leaf-39" class="lf" transform="translate(2653,1210.9)"><rect x="-4.5" y="-7" width="9" height="14"/><text class="z" y="4.3">0</text><text class="s" x="2" y="8.5">Jaculus jaculus Lesser Egyptian jerboa</text></g>
<g id="leaf-40" class="lf" transform="translate(2653,1237.7)"><rect x="-4.5" y="-7" width="9" height="14"/><text class="z" y="4.3">0</text><text class="s" x="2" y="8.5">Octodon degus Common degu</text></g>
<g id="leaf-41" class="lf" transform="translate(2401,1264.5)"><rect x="-4.5" y="-7" width="9" height="14"/><text class="z" y="4.3">0</text><text class="s" x="2" y="8.5">Tursiops truncatus Bottlenose dolphin</text></g>
<g id="leaf-42" class="lf" transform="translate(2401,1291.4)"><rect x="-4.5" y="-7" width="9" height="14"/><text class="z" y="4.3">0</text><text class="s" x="2" y="8.5">Delphinapterus leucas Beluga whale</text></g>
<g id="leaf-43" class="lf" transform="translate(2301,1318.2)"><rect x="-4.5" y="-7" width="9" height="14"/><text class="z" y="4.3">0</text><text class="s" x="2" y="8.5">Scalopus aquaticus Eastern mole</text></g>
<g id="leaf-44" class="lf" transform="translate(2197,1345)"><rect x="-4.5" y="-7" width="9" height="14"/><text class="z" y="4.3">0</text><text class="s" x="2" y="8.5">Castor fiber European beaver</text></g>
<g id="leaf-45" class="lf" transform="translate(2092,1371.9)"><rect x="-4.5" y="-7" width="9" height="14"/><text class="z" y="4.3">0</text><text class="s" x="2" y="8.5">Rattus norvegicus Brown rat</text></g>
<g id="leaf-46" class="lf" transform="translate(1980,1398.7)"><rect x="-4.5" y="-7" width="9" height="14"/><text class="z" y="4.3">0</text><text class="s" x="2" y="8.5">Tachyglossus aculeatus aculeatus Echidna</text></g>
<g id="leaf-47" class="lf" transform="translate(2139,1425.5)"><rect x="-4.5" y="-7" width="9" height="14"/><text class="z" y="4.3">0</text><text class="s" x="2" y="8.5">Himantopus himantopus Black-winged stilt</text></g>
<g id="leaf-48" class="lf" transform="translate(2139,1452.3)"><rect x="-4.5" y="-7" width="9" height="14"/><text class="z" y="4.3">0</text><text class="s" x="2" y="8.5">Nycticryphes semicollaris Night parrot</text></g>
<g id="leaf-49" class="lf" transform="translate(2122,1479.2)"><rect x="-4.5" y="-7" width="9" height="14"/><text class="z" y="4.3">0</text><text class="s" x="2" y="8.5">Chionis minor Black-faced sheathbill</text></g>
<g id="leaf-50" class="lf" transform="translate(2129,1506)"><rect x="-4.5" y="-7" width="9" height="14"/><text class="z" y="4.3">0</text><text class="s" x="2" y="8.5">Stercorarius maccormicki South Polar Skua</text></g>
<g id="leaf-51" class="lf" transform="translate(2129,1532.8)"><rect x="-4.5" y="-7" width="9" height="14"/><text class="z" y="4.3">0</text><text class="s" x="2" y="8.5">Dromas ardeola Crab-plover</text></g>
<g id="leaf-52" class="lf" transform="translate(2116,1559.7)"><rect x="-4.5" y="-7" width="9" height="14"/><text class="z" y="4.3">0</text><text class="s" x="2" y="8.5">Cepphus grylle Black guillemot</text></g>
<g id="leaf-53" class="lf" transform="translate(2116,1586.5)"><rect x="-4.5" y="-7" width="9" height="14"/><text class="z" y="4.3">0</text><text class="s" x="2" y="8.5">Alca torda Razorbill</text></g>
<g id="leaf-54" class="lf" transform="translate(2079,1613.3)"><rect x="-4.5" y="-7" width="9" height="14"/><text class="z" y="4.3">0</text><text class="s" x="2" y="8.5">Ibidorhyncha struthersii Ibisbill</text></g>
<g id="leaf-55" class="lf" transform="translate(2044,1640.2)"><rect x="-4.5" y="-7" width="9" height="14"/><text class="z" y="4.3">0</text><text class="s" x="2" y="8.5">Herpetotheres cachinnans Laughing falcon</text></g>
<g id="leaf-56" class="lf" transform="translate(1974,1667)"><rect x="-4.5" y="-7" width="9" height="14"/><text class="z" y="4.3">0</text><text class="s" x="2" y="8.5">Aldabrachelys gigantea Seychelles giant tortoise</text></g>
<g id="leaf-57" class="lf" transform="translate(1564,1693.8)"><rect x="-4.5" y="-7" width="9" height="14"/><text class="z" y="4.3">0</text><text class="s" x="2" y="8.5">Nomonyx dominicus Masked duck</text></g>
<g id="leaf-58" class="lf" transform="translate(1564,1720.6)"><rect x="-4.5" y="-7" width="9" height="14"/><text class="z" y="4.3">0</text><text class="s" x="2" y="8.5">Oxyura jamaicensis jamaicensis Ruddy duck</text></g>
<g id="leaf-59" class="lf" transform="translate(1564,1747.5)"><rect x="-4.5" y="-7" width="9" height="14"/><text class="z" y="4.3">0</text><text class="s" x="2" y="8.5">Oxyura vittata Lake duck</text></g>
<g id="leaf-60" class="lf" transform="translate(1564,1774.3)"><rect x="-4.5" y="-7" width="9" height="14"/><text class="z" y="4.3">0</text><text class="s" x="2" y="8.5">Oxyura ferruginea Andean duck</text></g>
<g id="leaf-61" class="lf" transform="translate(1563,1801.1)"><rect x="-4.5" y="-7" width="9" height="14"/><text class="z" y="4.3">0</text><text class="s" x="2" y="8.5">Malacorhynchus membranaceus Pink-eared duck</text></g>
<g id="leaf-62" class="lf" transform="translate(1553,1828)"><rect x="-4.5" y="-7" width="9" height="14"/><text class="z" y="4.3">0</text><text class="s" x="2" y="8.5">Dendrocygna eytoni Plumed whistling duck</text></g>
<g id="leaf-63" class="lf" transform="translate(1539,1854.8)"><rect x="-4.5" y="-7" width="9" height="14"/><text class="z" y="4.3">0</text><text class="s" x="2" y="8.5">Biziura lobata Musk duck</text></g>
<g id="leaf-64" class="lf" transform="translate(1559,1881.6)"><rect x="-4.5" y="-7" width="9" height="14"/><text class="z" y="4.3">0</text><text class="s" x="2" y="8.5">Callonetta leucophrys Ringed teal</text></g>
<g id="leaf-65" class="lf" transform="translate(1559,1908.5)"><rect x="-4.5" y="-7" width="9" height="14"/><text class="z" y="4.3">0</text><text class="s" x="2" y="8.5">Clangula hyemalis Long-tailed duck</text></g>
<g id="leaf-66" class="lf" transform="translate(1562,1935.3)"><rect x="-4.5" y="-7" width="9" height="14"/><text class="z" y="4.3">0</text><text class="s" x="2" y="8.5">Somateria spectabilis King eider</text></g>
<g id="leaf-67" class="lf" transform="translate(1562,1962.1)"><rect x="-4.5" y="-7" width="9" height="14"/><text class="z" y="4.3">0</text><text class="s" x="2" y="8.5">Somateria fischeri Spectacled eider</text></g>
<g id="leaf-68" class="lf" transform="translate(1561,1988.9)"><rect x="-4.5" y="-7" width="9" height="14"/><text class="z" y="4.3">0</text><text class="s" x="2" y="8.5">Melanitta fusca Velvet scoter</text></g>
<g id="leaf-69" class="lf" transform="translate(1557,2015.8)"><rect x="-4.5" y="-7" width="9" height="14"/><text class="z" y="4.3">0</text><text class="s" x="2" y="8.5">Chenonetta jubata Maned duck</text></g>
<g id="leaf-70" class="lf" transform="translate(1557,2042.6)"><rect x="-4.5" y="-7" width="9" height="14"/><text class="z" y="4.3">0</text><text class="s" x="2" y="8.5">Chloephaga rubidiceps Ruddy-headed goose</text></g>
<g id="leaf-71" class="lf" transform="translate(1557,2069.4)"><rect x="-4.5" y="-7" width="9" height="14"/><text class="z" y="4.3">0</text><text class="s" x="2" y="8.5">Chloephaga poliocephala Ashy-headed goose</text></g>
<g id="leaf-72" class="lf" transform="translate(1557,2096.3)"><rect x="-4.5" y="-7" width="9" height="14"/><text class="z" y="4.3">0</text><text class="s" x="2" y="8.5">Chloephaga picta leucoptera Southern shelduck</text></g>
<g id="leaf-73" class="lf" transform="translate(1557,2123.1)"><rect x="-4.5" y="-7" width="9" height="14"/><text class="z" y="4.3">0</text><text class="s" x="2" y="8.5">Chloephaga hybrida malvinarum Kelp goose</text></g>
<g id="leaf-74" class="lf" transform="translate(1556,2149.9)"><rect x="-4.5" y="-7" width="9" height="14"/><text class="z" y="4.3">0</text><text class="s" x="2" y="8.5">Chloephaga melanoptera Andean goose</text></g>
<g id="leaf-75" class="lf" transform="translate(1551,2176.8)"><rect x="-4.5" y="-7" width="9" height="14"/><text class="z" y="4.3">0</text><text class="s" x="2" y="8.5">Neochen jubata Orinoco goose</text></g>
<g id="leaf-76" class="lf" transform="translate(1547,2203.6)"><rect x="-4.5" y="-7" width="9" height="14"/><text class="z" y="4.3">0</text><text class="s" x="2" y="8.5">Tadorna tadornoides Australian shelduck</text></g>
<g id="leaf-77" class="lf" transform="translate(1564,2230.4)"><rect x="-4.5" y="-7" width="9" height="14"/><text class="z" y="4.3">0</text><text class="s" x="2" y="8.5">Cygnus olor Mute swan</text></g>
<g id="leaf-78" class="lf" transform="translate(1564,2257.2)"><rect x="-4.5" y="-7" width="9" height="14"/><text class="z" y="4.3">0</text><text class="s" x="2" y="8.5">Cygnus atratus Black swan</text></g>
<g id="leaf-79" class="lf" transform="translate(1561,2284.1)"><rect x="-4.5" y="-7" width="9" height="14"/><text class="z" y="4.3">0</text><text class="s" x="2" y="8.5">Cygnus columbianus Tundra swan</text></g>
<g id="leaf-80" class="lf" transform="translate(1561,2310.9)"><rect x="-4.5" y="-7" width="9" height="14"/><text class="z" y="4.3">0</text><text class="s" x="2" y="8.5">Cygnus buccinator Trumpeter swan</text></g>
<g id="leaf-81" class="lf" transform="translate(1554,2337.7)"><rect x="-4.5" y="-7" width="9" height="14"/><text class="z" y="4.3">0</text><text class="s" x="2" y="8.5">Cygnus melancoryphus Black-necked swan</text></g>
<g id="leaf-82" class="lf" transform="translate(1557,2364.6)"><rect x="-4.5" y="-7" width="9" height="14"/><text class="z" y="4.3">0</text><text class="s" x="2" y="8.5">Anser caerulescens Snow goose</text></g>
<g id="leaf-83" class="lf" transform="translate(1557,2391.4)"><rect x="-4.5" y="-7" width="9" height="14"/><text class="z" y="4.3">0</text><text class="s" x="2" y="8.5">Anser rossii Rosss goose</text></g>
<g id="leaf-84" class="lf" transform="translate(1557,2418.2)"><rect x="-4.5" y="-7" width="9" height="14"/><text class="z" y="4.3">0</text><text class="s" x="2" y="8.5">Anser albifrons White-fronted goose</text></g>
<g id="leaf-85" class="lf" transform="translate(1557,2445.1)"><rect x="-4.5" y="-7" width="9" height="14"/><text class="z" y="4.3">0</text><text class="s" x="2" y="8.5">Anser anser Greylag goose</text></g>
<g id="leaf-86" class="lf" transform="translate(1557,2471.9)"><rect x="-4.5" y="-7" width="9" height="14"/><text class="z" y="4.3">0</text><text class="s" x="2" y="8.5">Branta leucopsis Barnacle goose</text></g>
<g id="leaf-87" class="lf" transform="translate(1557,2498.7)"><rect x="-4.5" y="-7" width="9" height="14"/><text class="z" y="4.3">0</text><text class="s" x="2" y="8.5">Anser cygnoides Swan goose</text></g>
<g id="leaf-88" class="lf" transform="translate(1557,2525.5)"><rect x="-4.5" y="-7" width="9" height="14"/><text class="z" y="4.3">0</text><text class="s" x="2" y="8.5">Branta sandvicensis Nene</text></g>
<g id="leaf-89" class="lf" transform="translate(1557,2552.4)"><rect x="-4.5" y="-7" width="9" height="14"/><text class="z" y="4.3">0</text><text class="s" x="2" y="8.5">Branta canadensis Canada goose</text></g>
<g id="leaf-90" class="lf" transform="translate(1557,2579.2)"><rect x="-4.5" y="-7" width="9" height="14"/><text class="z" y="4.3">0</text><text class="s" x="2" y="8.5">Anser fabalis Bean goose</text></g>
<g id="leaf-91" class="lf" transform="translate(1557,2606)"><rect x="-4.5" y="-7" width="9" height="14"/><text class="z" y="4.3">0</text><text class="s" x="2" y="8.5">Anser canagicus Emperor goose</text></g>
<g id="leaf-92" class="lf" transform="translate(1557,2632.9)"><rect x="-4.5" y="-7" width="9" height="14"/><text class="z" y="4.3">0</text><text class="s" x="2" y="8.5">Anser indicus Bar-headed goose</text></g>
<g id="leaf-93" class="lf" transform="translate(1552,2659.7)"><rect x="-4.5" y="-7" width="9" height="14"/><text class="z" y="4.3">0</text><text class="s" x="2" y="8.5">Branta bernicla Brent goose</text></g>
<g id="leaf-94" class="lf" transform="translate(1527,2686.5)"><rect x="-4.5" y="-7" width="9" height="14"/><text class="z" y="4.3">0</text><text class="s" x="2" y="8.5">Cereopsis novaehollandiae Cape Barren goose</text></g>
<g id="leaf-95" class="lf" transform="translate(1527,2713.4)"><rect x="-4.5" y="-7" width="9" height="14"/><text class="z" y="4.3">0</text><text class="s" x="2" y="8.5">Coscoroba coscoroba Coscoroba swan</text></g>
<g id="leaf-96" class="lf" transform="translate(1336,2740.2)"><rect x="-4.5" y="-7" width="9" height="14"/><text class="z" y="4.3">0</text><text class="s" x="2" y="8.5">Xenopus tropicalis Western clawed frog</text></g>
<g id="leaf-97" class="lf" transform="translate(1336,2767)"><rect x="-4.5" y="-7" width="9" height="14"/><text class="z" y="4.3">0</text><text class="s" x="2" y="8.5">Xenopus laevis African clawed frog</text></g>
<g id="leaf-98" class="lf" transform="translate(1026,2793.8)"><rect x="-4.5" y="-7" width="9" height="14"/><text class="z" y="4.3">0</text><text class="s" x="2" y="8.5">Pleurodeles waltl Iberian ribbed newt</text></g>
<g id="leaf-99" class="lf" transform="translate(514,2820.7)"><rect x="-4.5" y="-7" width="9" height="14"/><text class="z" y="4.3">0</text><text class="s" x="2" y="8.5">Torpedo marmorata Marbled electric ray</text></g>
</g>
</svg>
